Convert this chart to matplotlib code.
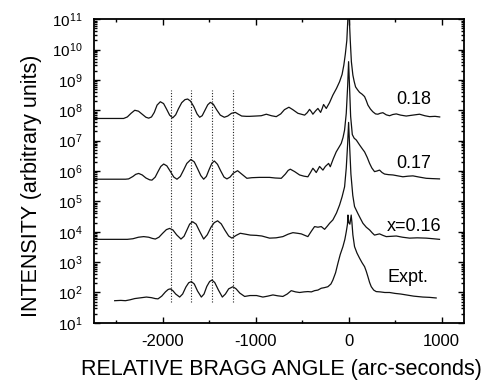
import numpy as np
import matplotlib.pyplot as plt
from matplotlib.ticker import LogLocator, MultipleLocator, NullFormatter

plt.rcParams['font.family'] = ['Liberation Sans', 'DejaVu Sans']
plt.rcParams['mathtext.fontset'] = 'custom'
plt.rcParams['mathtext.rm'] = 'Liberation Sans'
plt.rcParams['mathtext.it'] = 'Liberation Sans:italic'
plt.rcParams['mathtext.bf'] = 'Liberation Sans:bold'
plt.rcParams['axes.unicode_minus'] = False

# log10(intensity), x in arc-seconds
x18 = [-2740, -2420, -2380, -2340, -2300, -2260, -2220, -2180, -2150, -2120, -2090, -2060,
       -2025, -1990, -1960, -1925, -1892, -1860, -1830, -1795, -1760, -1731, -1700, -1665,
       -1630, -1602, -1575, -1545, -1515, -1487, -1455, -1420, -1380, -1337, -1300, -1260,
       -1218, -1185, -1150, -1100, -1065, -1000, -940, -885, -830, -778, -730, -690, -642,
       -600, -545, -473, -445, -420, -400, -384, -355, -330, -301, -285, -269, -240, -205,
       -169, -130, -97, -70, -51, -35, -19, -8, 0, 8, 18, 30, 46, 60, 75, 95, 118, 145, 172,
       190, 208, 235, 261, 290, 315, 340, 369, 405, 441, 475, 513, 560, 620, 690, 763, 820,
       871, 930, 980]
y18 = [7.73, 7.73, 7.78, 7.90, 8.00, 7.97, 7.87, 7.77, 7.74, 7.78, 7.93, 8.17,
       8.28, 8.22, 8.05, 7.84, 7.75, 7.85, 8.05, 8.25, 8.35, 8.37, 8.30, 8.12,
       7.88, 7.77, 7.82, 8.00, 8.18, 8.26, 8.20, 8.02, 7.84, 7.77, 7.81, 7.90,
       7.93, 7.87, 7.81, 7.80, 7.80, 7.81, 7.82, 7.87, 7.82, 7.79, 7.88, 8.02, 8.10,
       8.02, 7.90, 7.84, 7.92, 8.03, 7.95, 7.87, 7.98, 8.06, 7.93, 8.05, 8.19, 8.06, 8.25,
       8.50, 8.72, 8.94, 9.18, 9.49, 9.85, 10.3, 11.0, 11.6, 11.0, 10.3, 9.6, 9.16, 8.95,
       8.77, 8.68, 8.59, 8.53, 8.45,
       8.32, 8.17, 8.04, 7.95, 7.88, 7.87, 7.90, 7.92, 7.85, 7.82, 7.86, 7.88, 7.84, 7.81,
       7.84, 7.87, 7.82, 7.79, 7.80, 7.78]

x17 = [-2740, -2400, -2366, -2320, -2290, -2258, -2220, -2180, -2140, -2115, -2080, -2050,
       -2020, -1989, -1955, -1920, -1880, -1846, -1810, -1775, -1740, -1696, -1660, -1625,
       -1590, -1559, -1530, -1500, -1470, -1444, -1410, -1375, -1340, -1309, -1275, -1240,
       -1194, -1150, -1094, -1040, -960, -850, -790, -724, -680, -650, -627, -580, -527,
       -480, -438, -410, -384, -365, -348, -330, -312, -294, -276, -250, -215, -197, -165,
       -133, -100, -79, -60, -43, -25, -10, 0, 10, 22, 40, 60, 83, 120, 150, 172, 200, 226,
       250, 279, 305, 333, 360, 387, 430, 477, 530, 584, 640, 692, 760, 835, 900, 978]
y17 = [5.73, 5.73, 5.74, 5.82, 5.89, 5.92, 5.87, 5.77, 5.71, 5.70, 5.80, 5.98,
       6.15, 6.23, 6.17, 6.00, 5.80, 5.73, 5.82, 6.03, 6.25, 6.38, 6.30, 6.08,
       5.85, 5.73, 5.82, 6.05, 6.26, 6.33, 6.22, 6.00, 5.80, 5.74, 5.80, 5.93,
       6.01, 5.90, 5.76, 5.78, 5.79, 5.79, 5.77, 5.76, 5.90, 6.02, 6.06, 5.98, 5.87,
       5.83, 5.81, 5.95, 6.09, 6.02, 5.95, 6.05, 6.15, 6.09, 6.03, 6.15, 6.25, 6.14, 6.40,
       6.63, 6.80, 6.91, 7.10, 7.35, 7.9, 8.8, 9.6, 8.8, 7.8, 7.2, 7.08, 7.02, 6.85, 6.72,
       6.63, 6.45, 6.25,
       6.10, 5.98, 6.00, 6.03, 5.95, 5.90, 5.88, 5.87, 5.84, 5.81, 5.83, 5.84, 5.80, 5.76,
       5.75, 5.74]

x16 = [-2740, -2380, -2320, -2260, -2204, -2150, -2110, -2079, -2040, -2000, -1960, -1925,
       -1890, -1850, -1803, -1770, -1740, -1710, -1677, -1640, -1600, -1559, -1520, -1480,
       -1445, -1409, -1370, -1330, -1290, -1255, -1210, -1165, -1110, -1057, -990, -933,
       -850, -780, -707, -650, -599, -550, -509, -470, -438, -400, -366, -330, -294, -258,
       -230, -204, -169, -130, -97, -70, -43, -25, -10, 0, 10, 25, 45, 64, 100, 125, 154,
       190, 226, 255, 279, 305, 333, 370, 405, 460, 513, 580, 656, 740, 835, 910, 978]
y16 = [3.75, 3.75, 3.77, 3.82, 3.84, 3.82, 3.78, 3.76, 3.82, 3.95, 4.07, 4.11,
       4.06, 3.90, 3.76, 3.85, 4.05, 4.25, 4.33, 4.25, 4.00, 3.76, 3.90, 4.15,
       4.30, 4.36, 4.26, 4.05, 3.86, 3.79, 3.88, 3.95, 3.92, 3.89, 3.88, 3.86,
       3.79, 3.80, 3.84, 3.92, 3.97, 3.95, 3.93, 3.88, 3.84, 4.02, 4.17, 4.15, 4.17, 4.08,
       4.18, 4.28, 4.39, 4.62, 4.88, 5.15, 5.48, 6.1, 6.9, 7.6, 6.9, 5.9, 5.2, 4.83, 4.60,
       4.45, 4.28, 4.15, 4.06, 3.96, 3.89, 3.91, 3.93, 3.88, 3.84, 3.85, 3.86, 3.82, 3.79,
       3.80, 3.79, 3.77, 3.75]

x_expt = [-2516, -2450, -2400, -2350, -2300, -2250, -2200, -2175, -2120, -2080, -2050, -2010,
          -1970, -1940, -1917, -1890, -1860, -1817, -1785, -1750, -1720, -1691, -1660, -1625,
          -1584, -1555, -1525, -1495, -1470, -1440, -1400, -1358, -1325, -1290, -1244, -1210,
          -1170, -1118, -1060, -990, -922, -870, -814, -760, -707, -660, -617, -570, -527,
          -480, -438, -400, -366, -330, -294, -260, -223, -190, -169, -140, -115, -90, -61,
          -40, -25, -12, -7, 2, 14, 28, 36, 46, 64, 90, 118, 145, 172, 190, 208, 226, 244,
          270, 297, 340, 390, 441, 500, 560, 620, 700, 799, 870, 942]
y_expt = [1.73, 1.74, 1.73, 1.76, 1.80, 1.82, 1.84, 1.85, 1.83, 1.80, 1.79, 1.88,
          2.02, 2.10, 2.12, 2.06, 1.95, 1.85, 1.95, 2.18, 2.32, 2.36, 2.28, 2.05,
          1.85, 1.95, 2.20, 2.36, 2.41, 2.33, 2.08, 1.85, 1.95, 2.12, 2.19, 2.12,
          1.98, 1.87, 1.90, 1.90, 1.85, 1.88, 1.92, 1.89, 1.87, 1.95, 2.06, 2.02, 2.00,
          2.02, 2.03, 2.02, 2.06, 2.08, 2.14, 2.16, 2.19, 2.28, 2.41, 2.65, 2.96, 3.25, 3.51,
          3.75, 4.0, 4.25, 4.55, 4.3, 4.25, 4.55, 4.3, 3.9, 3.51, 3.30, 3.13, 2.98, 2.85, 2.70,
          2.52, 2.33, 2.19,
          2.08, 2.03, 2.02, 2.00, 2.00, 1.97, 1.95, 1.92, 1.88, 1.85, 1.84, 1.82]

fringe_x = [-1915, -1690, -1470, -1245]
fringe_lo, fringe_hi = 50, 4.5e8

labels = ['0.18', '0.17', 'x=0.16', 'Expt.']
label_x = [700, 700, 700, 640]
label_y = [2.2e8, 1.8e6, 1.45e4, 3.2e2]

fig = plt.figure(figsize=(4.94, 3.83), dpi=100)
ax = fig.add_axes([0.190, 0.157, 0.749, 0.793])

for xs, ys in [(x18, y18), (x17, y17), (x16, y16), (x_expt, y_expt)]:
    ax.plot(xs, 10 ** np.array(ys), color='#111111', lw=0.9)

ax.vlines(fringe_x, fringe_lo, fringe_hi, colors='#222222', linestyles=(0, (1, 1.5)), lw=0.8)

for t, tx, ty in zip(labels, label_x, label_y):
    ax.text(tx, ty, t, ha='center', va='center', fontsize=13)

ax.set_yscale('log')
ax.set_xlim(-2740, 1240)
ax.set_ylim(10, 1e11)
ax.yaxis.set_major_locator(LogLocator(base=10, numticks=20))
ax.yaxis.set_minor_locator(LogLocator(base=10, subs=np.arange(2, 10), numticks=20))
ax.yaxis.set_minor_formatter(NullFormatter())
ax.xaxis.set_major_locator(MultipleLocator(1000))
ax.xaxis.set_minor_locator(MultipleLocator(500))

ax.tick_params(which='both', direction='in', top=True, right=True, width=1.0)
ax.tick_params(which='major', length=4.5)
ax.tick_params(which='minor', length=2.5)
ax.tick_params(axis='y', labelsize=11, pad=8)
ax.tick_params(axis='x', labelsize=12, pad=8)
for s in ax.spines.values():
    s.set_linewidth(1.3)

ax.set_xlabel('RELATIVE BRAGG ANGLE (arc-seconds)', fontsize=15.5)
ax.set_ylabel('INTENSITY (arbitrary units)', fontsize=15.5)
ax.xaxis.set_label_coords(0.507, -0.12)
ax.yaxis.set_label_coords(-0.14, 0.45)

fig.savefig('out.png', dpi=100)
